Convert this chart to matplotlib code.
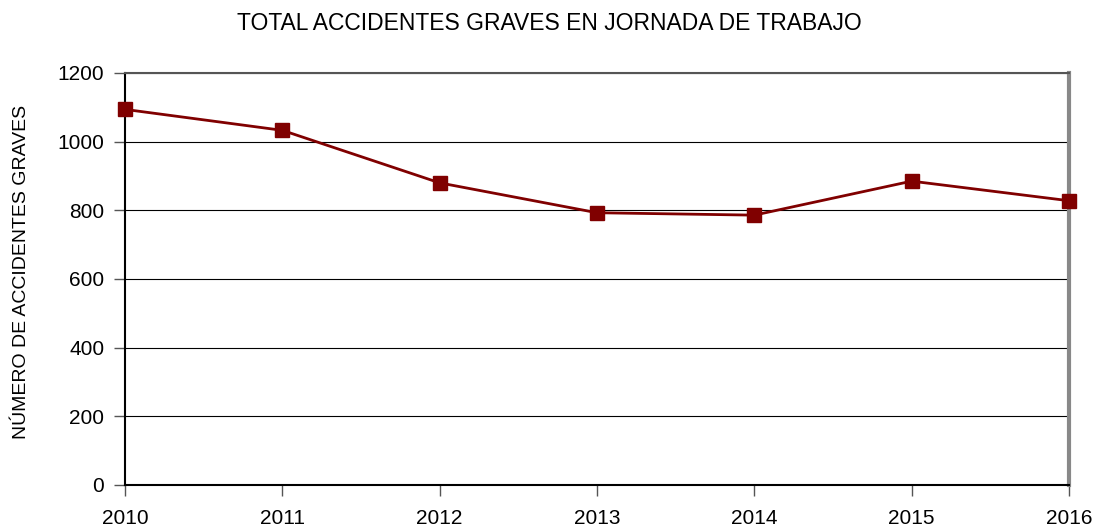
import matplotlib
matplotlib.use("Agg")
import matplotlib.pyplot as plt

years = [2010, 2011, 2012, 2013, 2014, 2015, 2016]
values = [1094, 1033, 880, 793, 786, 885, 828]
yticks = [0, 200, 400, 600, 800, 1000, 1200]
title = "TOTAL ACCIDENTES GRAVES EN JORNADA DE TRABAJO"
ylabel = "NÚMERO DE ACCIDENTES GRAVES"

plt.rcParams['font.family'] = ['Liberation Sans', 'DejaVu Sans']

fig = plt.figure(figsize=(10.98, 5.28), dpi=100)
ax = fig.add_axes([125/1098, 43/528, (1069-125)/1098, (485-73)/528])

ax.plot(years, values, color="#800000", lw=2.0, marker="s", markersize=10,
        markerfacecolor="#800000", markeredgecolor="#800000", zorder=3, clip_on=False)

ax.set_xlim(years[0], years[-1])
ax.set_ylim(0, 1200)
ax.set_yticks(yticks)
ax.set_xticks(years)
ax.yaxis.grid(True, color="black", lw=0.8)
ax.set_axisbelow(True)

for s in ["left", "bottom"]:
    ax.spines[s].set_color("black")
    ax.spines[s].set_linewidth(1.5)
ax.spines["top"].set_color("#555555")
ax.spines["top"].set_linewidth(1.5)
ax.spines["right"].set_color("#888888")
ax.spines["right"].set_linewidth(3)

ax.tick_params(axis="both", direction="out", length=8, width=1, color="#555555",
               labelsize=15)
ax.tick_params(axis="x", pad=9)
ax.tick_params(axis="y", pad=7)

fig.text(22/1098, 1 - 272/528, ylabel, rotation=90, ha="center", va="center", fontsize=14)
fig.text(0.5, 1 - 24/528, title, ha="center", va="center", fontsize=16.5)

fig.savefig("out.png", dpi=100)
